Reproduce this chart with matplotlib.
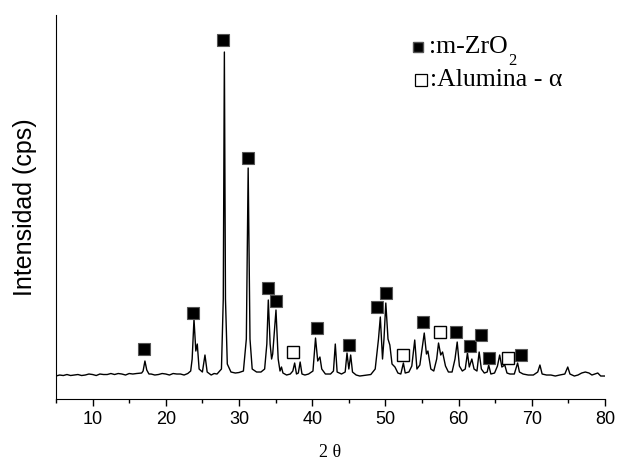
import matplotlib
matplotlib.use('Agg')
import matplotlib.pyplot as plt
import numpy as np

plt.rcParams['font.family'] = ['Liberation Sans', 'DejaVu Sans']

# 衍射曲线 (2θ, 强度) —— 折线顶点
two_theta = [5.0, 5.5, 6.0, 6.5, 7.0, 7.5, 8.0, 8.5, 9.0, 9.5, 10.0, 10.5, 11.0,
             11.5, 12.0, 12.5, 13.0, 13.5, 14.0, 14.5, 15.0, 15.5, 16.0, 16.7,
             16.9, 17.15, 17.4, 17.7, 18.0, 18.5, 19.0, 19.5, 20.0, 20.5, 21.0,
             21.5, 22.0, 22.5, 23.0, 23.4,
             23.6, 23.85, 24.1, 24.3, 24.55, 25.0, 25.35, 25.65, 26.2, 26.6, 27.0, 27.6,
             27.85, 28.0, 28.15, 28.4, 28.9, 29.5, 30.0, 30.6, 31.0, 31.25, 31.5,
             31.8, 32.4, 33.0, 33.5, 33.8, 34.0, 34.25, 34.45, 34.6, 35.05, 35.35,
             35.6, 35.8, 36.0, 36.5, 37.0, 37.35, 37.6, 37.85, 38.1, 38.35, 38.6,
             39.0, 39.5, 40.1, 40.45, 40.75, 41.05, 41.3, 41.8, 42.5, 42.9, 43.15,
             43.4, 44.0, 44.5, 44.75, 45.0, 45.25, 45.5, 46.0, 46.5, 47.0, 47.5,
             48.0, 48.6, 49.05, 49.3, 49.6, 49.8, 50.05, 50.35, 50.6, 50.9, 51.3,
             51.7, 52.1, 52.45, 52.7, 53.2, 53.6, 54.0, 54.3, 54.7, 55.3, 55.6,
             55.8, 56.2, 56.6, 57.0, 57.25, 57.55, 57.8, 58.2, 58.6, 59.1, 59.5,
             59.8, 60.1, 60.5, 60.9, 61.2, 61.45, 61.8, 62.1, 62.5, 62.8, 63.1,
             63.5, 63.9, 64.1, 64.4, 64.9, 65.3, 65.6, 65.9, 66.3, 66.6, 67.0,
             67.6, 68.05, 68.3, 68.8, 69.5, 70.2, 70.8, 71.1, 71.4, 72.0, 72.6,
             73.2, 73.8, 74.5, 74.9, 75.2, 75.8, 76.3, 76.8, 77.3, 77.8, 78.2,
             78.6, 79.0, 79.4, 80.0]
intensity = [23, 24, 23.5, 24.5, 23.5, 24, 24.5, 23.5, 24, 25, 24.5, 23.5, 25,
             24.5, 24.5, 25.5, 24.5, 25.5, 25, 24, 25.5, 25, 25.5, 26,
             28, 38, 29, 25, 25, 24, 24.5, 25.5, 25, 24, 25.5,
             25, 25, 24, 25.5, 28,
             40, 80, 48, 55, 30, 27, 44, 27, 24, 25.5, 25, 30,
             100, 347, 100, 35, 27, 26, 26.5, 28, 60, 231, 60,
             30, 27, 27, 30, 55, 99, 55, 40, 45, 89, 40,
             28, 32, 26, 24, 25, 28, 36, 25, 26, 37, 25,
             24, 25, 28, 61, 38, 42, 30, 25, 25, 28, 55,
             27, 25, 27, 46, 30, 44, 27, 24, 23, 23.5, 24,
             24.5, 30, 60, 82, 40, 60, 96, 60, 54, 35, 32,
             26, 25, 36, 26, 27, 33, 59, 30, 34, 66, 45,
             48, 30, 28, 40, 56, 44, 47, 33, 27, 27, 40,
             57, 33, 28, 30, 46, 32, 40, 30, 28, 47, 30,
             26, 27, 34, 25, 26, 33, 44, 32, 34, 26, 25,
             25, 36, 27, 25, 24, 24, 27, 34, 25, 24, 24,
             23, 24, 25, 32, 25, 23, 24, 26, 27, 26, 24,
             25, 26, 23, 23]

# 峰位标记
zro2_x = [17.07, 23.76, 27.85, 31.26, 33.99, 35.08, 40.68, 45.04, 48.86, 50.09,
          55.13, 59.64, 61.55, 63.05, 64.14, 68.51]
zro2_y = [50, 86, 359, 241, 111, 98, 71, 54, 92, 106, 77, 67, 53, 64, 41, 44]
alumina_x = [37.40, 52.41, 57.46, 66.73]
alumina_y = [47, 44, 67, 41]

fig = plt.figure(figsize=(6.24, 4.68), dpi=100)
ax = fig.add_axes([0.0897, 0.1474, 0.88, 0.8205])

ax.plot(two_theta, intensity, color='black', linewidth=1.0)
ax.plot(zro2_x, zro2_y, 's', markersize=8, markerfacecolor='black',
        markeredgecolor='#555555', markeredgewidth=0.8, clip_on=False)
ax.plot(alumina_x, alumina_y, 's', markersize=9, markerfacecolor='white',
        markeredgecolor='black', markeredgewidth=1.0, clip_on=False)

# 图例（手工放置）
ax.plot([0.660], [0.917], 's', markersize=6.5, markerfacecolor='black',
        markeredgecolor='#555555', transform=ax.transAxes, clip_on=False)
ax.plot([0.664], [0.831], 's', markersize=8, markerfacecolor='white',
        markeredgecolor='black', markeredgewidth=0.9, transform=ax.transAxes, clip_on=False)
t1 = ax.text(0.680, 0.917, ':m-ZrO', transform=ax.transAxes, fontsize=18.5,
             family='Liberation Serif', va='center', ha='left')
ax.text(0.682, 0.831, ':Alumina - α', transform=ax.transAxes, fontsize=18.5,
        family='Liberation Serif', va='center', ha='left')

# 下标 2 紧跟在 O 后面
fig.canvas.draw()
bb = t1.get_window_extent().transformed(ax.transAxes.inverted())
ax.text(bb.x1 + 0.001, 0.880, '2', transform=ax.transAxes, fontsize=12,
        family='Liberation Serif', va='center', ha='left')

ax.set_xlim(5, 80)
ax.set_ylim(0, 384)
ax.set_xticks([10, 20, 30, 40, 50, 60, 70, 80])
ax.set_xticks([5, 15, 25, 35, 45, 55, 65, 75], minor=True)
ax.set_yticks([])
ax.tick_params(axis='x', which='major', direction='out', length=5, width=1, labelsize=13)
ax.tick_params(axis='x', which='minor', direction='out', length=3, width=1)
ax.spines['top'].set_visible(False)
ax.spines['right'].set_visible(False)

ax.set_xlabel('2 θ', fontsize=13, family='Liberation Serif', labelpad=12)
ax.set_ylabel('Intensidad (cps)', fontsize=18, labelpad=14)

plt.savefig('out.png', dpi=100)
plt.close()
